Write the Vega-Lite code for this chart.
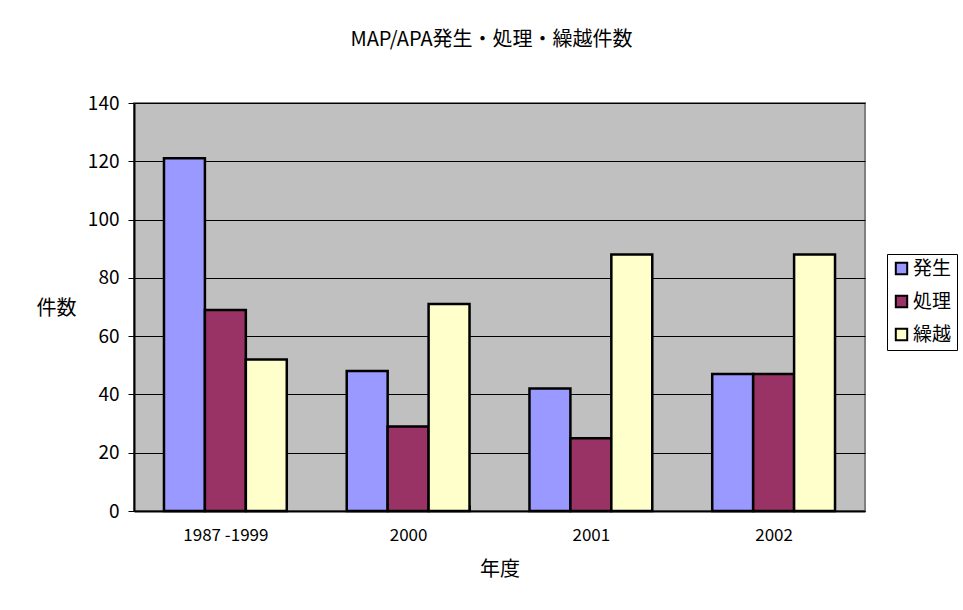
{
  "$schema": "https://vega.github.io/schema/vega-lite/v6.json",
  "width": 731,
  "height": 408,
  "autosize": "none",
  "padding": {"left": 134, "top": 103, "right": 98, "bottom": 99},
  "background": "white",
  "title": {
    "text": "MAP/APA発生・処理・繰越件数",
    "font": "Noto Sans CJK JP",
    "fontSize": 20,
    "fontWeight": "normal",
    "color": "black",
    "anchor": "middle",
    "frame": "group",
    "dx": -8,
    "offset": 44
  },
  "config": {
    "font": "Noto Sans CJK JP",
    "view": {"fill": "#C0C0C0", "stroke": "#808080", "strokeWidth": 2}
  },
  "data": {
    "values": [
      {"year": "1987 -1999", "type": "発生", "count": 121},
      {"year": "1987 -1999", "type": "処理", "count": 69},
      {"year": "1987 -1999", "type": "繰越", "count": 52},
      {"year": "2000", "type": "発生", "count": 48},
      {"year": "2000", "type": "処理", "count": 29},
      {"year": "2000", "type": "繰越", "count": 71},
      {"year": "2001", "type": "発生", "count": 42},
      {"year": "2001", "type": "処理", "count": 25},
      {"year": "2001", "type": "繰越", "count": 88},
      {"year": "2002", "type": "発生", "count": 47},
      {"year": "2002", "type": "処理", "count": 47},
      {"year": "2002", "type": "繰越", "count": 88}
    ]
  },
  "mark": {"type": "bar", "stroke": "black", "strokeWidth": 2.5},
  "encoding": {
    "x": {
      "field": "year",
      "type": "nominal",
      "sort": null,
      "scale": {"paddingInner": 0.328, "paddingOuter": 0.164},
      "axis": {
        "title": "年度",
        "titleFont": "Noto Sans CJK JP",
        "titleFontSize": 20,
        "titleFontWeight": "normal",
        "titleColor": "black",
        "titlePadding": 16,
        "labelAngle": 0,
        "labelFontSize": 17,
        "labelColor": "black",
        "labelPadding": 22,
        "domainColor": "black",
        "domainWidth": 2,
        "tickColor": "black",
        "tickBand": "extent",
        "tickSize": -6,
        "tickWidth": 1,
        "grid": false
      }
    },
    "xOffset": {"field": "type", "type": "nominal", "sort": ["発生", "処理", "繰越"]},
    "y": {
      "field": "count",
      "type": "quantitative",
      "scale": {"domain": [0, 140], "nice": false},
      "axis": {
        "title": "件数",
        "titleAngle": 0,
        "titleAlign": "center",
        "titleBaseline": "middle",
        "titleX": -78,
        "titleY": 205,
        "titleFont": "Noto Sans CJK JP",
        "titleFontSize": 20,
        "titleFontWeight": "normal",
        "titleColor": "black",
        "values": [0, 20, 40, 60, 80, 100, 120, 140],
        "labelFontSize": 19,
        "labelColor": "black",
        "labelPadding": 9,
        "domainColor": "black",
        "domainWidth": 2,
        "tickColor": "black",
        "tickSize": 6,
        "grid": true,
        "gridColor": "black",
        "gridWidth": 1,
        "gridOpacity": 1
      }
    },
    "color": {
      "field": "type",
      "type": "nominal",
      "sort": ["発生", "処理", "繰越"],
      "scale": {"domain": ["発生", "処理", "繰越"], "range": ["#9999FF", "#993366", "#FFFFCC"]},
      "legend": {
        "title": null,
        "orient": "none",
        "legendX": 753,
        "legendY": 151,
        "symbolType": "square",
        "symbolSize": 130,
        "symbolStrokeColor": "black",
        "symbolStrokeWidth": 2,
        "labelFontSize": 19,
        "labelColor": "black",
        "labelOffset": 2,
        "rowPadding": 12,
        "padding": 5,
        "strokeColor": "black",
        "fillColor": "white"
      }
    }
  }
}
